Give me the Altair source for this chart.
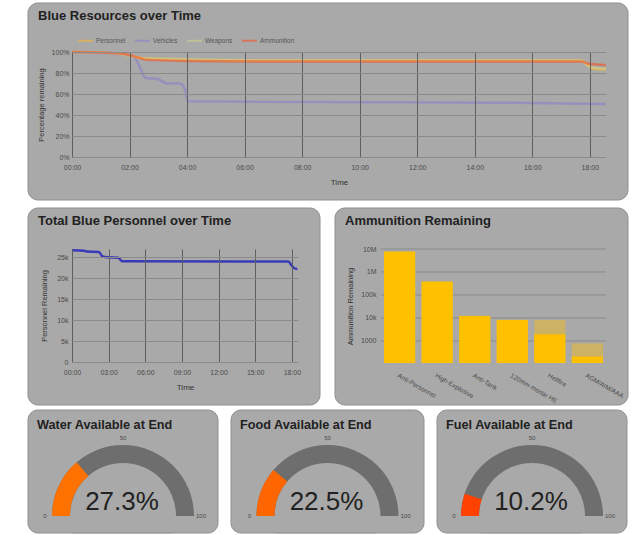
import math
import altair as alt
import pandas as pd

FONT = "Liberation Sans"
PANEL_FILL = "#a9a9a9"
PANEL_EDGE = "#8f8f8f"
TEXT_DARK = "#222222"
TEXT_AXIS = "#4a4a4a"

# ---- Blue resources, percentage remaining by hour of the exercise ----
series_names = ["Personnel", "Vehicles", "Weapons", "Ammunition"]
series_colors = ["#f2b632", "#8c80c8", "#cfd08a", "#f2562b"]

personnel_hours = [0, 1.0, 1.8, 2.2, 2.5, 3.0, 3.5, 4.2, 6.5, 17.7, 17.9, 18.1, 18.56]
personnel_pct = [100, 99.5, 97.5, 95.5, 94, 93.5, 93, 92.5, 92, 92, 88, 84, 83]

vehicles_hours = [0, 2.0, 2.2, 2.35, 2.55, 3.0, 3.3, 3.75, 3.93, 4.03, 6.5, 16.0, 18.56]
vehicles_pct = [100, 97, 94, 86, 75.5, 74, 70, 70, 64, 53, 52.5, 51.5, 50.5]

weapons_hours = [0, 1.0, 2.0, 2.4, 3.0, 4.0, 6.5, 17.7, 18.0, 18.56]
weapons_pct = [100, 99.5, 96.5, 94, 93.5, 93, 92, 92, 86, 84]

ammo_hours = [0, 1.0, 1.8, 2.2, 2.6, 4.0, 6.5, 17.7, 18.0, 18.56]
ammo_pct = [100, 99.5, 98, 95.5, 92.5, 91.5, 91, 91, 88.5, 87.5]

# ---- Total blue personnel by hour ----
total_hours = [0, 1.0, 1.2, 2.2, 2.5, 3.0, 3.8, 4.1, 17.7, 18.0, 18.2, 18.45]
total_personnel = [26700, 26600, 26400, 26300, 25200, 25000, 24900, 24100, 24000, 23000, 22400, 22200]

# ---- Ammunition stocks (log scale) ----
ammo_types = ["Anti-Personnel", "High-Explosive", "Anti-Tank", "120mm mortar HE", "Hellfire", "AGM/AIM/AAA"]
ammo_initial = [7.9e6, 400000, 12500, 8400, 8200, 790]
ammo_remaining = [7.6e6, 380000, 12200, 8200, 1950, 210]
ammo_ticks = [1000, 10000, 100000, 1000000, 10000000]
ammo_floor = 110

# ---- End-state supplies ----
gauge_titles = ["Water Available at End", "Food Available at End", "Fuel Available at End"]
gauge_values = [27.3, 22.5, 10.2]
gauge_ticks = [0, 50, 100]

panel_titles = ["Blue Resources over Time", "Total Blue Personnel over Time", "Ammunition Remaining"]

one = pd.DataFrame({"k": [0]})
LEFT = -44  # every row's first card starts this far left of its plot origin


def panel_bg(x0, x1, y0, y1):
    return alt.Chart(one).mark_rect(
        fill=PANEL_FILL, stroke=PANEL_EDGE, strokeWidth=1, cornerRadius=10
    ).encode(x=alt.value(x0), x2=alt.value(x1), y=alt.value(y0), y2=alt.value(y1))


def panel_title(text, x, y, size=13):
    return alt.Chart(one).mark_text(
        align="left", baseline="middle", font=FONT, fontSize=size,
        fontWeight="bold", color=TEXT_DARK
    ).encode(x=alt.value(x), y=alt.value(y), text=alt.value(text))


def axis(**kw):
    base = dict(domain=False, ticks=False, labelFontSize=7, titleFontSize=7.5,
                titleFontWeight="normal", labelColor=TEXT_AXIS, titleColor="#333",
                labelFont=FONT, titleFont=FONT, labelFlush=False, zindex=1)
    base.update(kw)
    return alt.Axis(**base)


hour_label = "(datum.value < 10 ? '0' : '') + datum.value + ':00'"

# ---------------- Top panel: resources over time ----------------
rows = []
for name, hrs, vals in [
    ("Personnel", personnel_hours, personnel_pct),
    ("Vehicles", vehicles_hours, vehicles_pct),
    ("Weapons", weapons_hours, weapons_pct),
    ("Ammunition", ammo_hours, ammo_pct),
]:
    for h, v in zip(hrs, vals):
        rows.append({"series": name, "hour": h, "pct": v})
res_df = pd.DataFrame(rows)

W1, H1 = 534, 105
res_lines = alt.Chart(res_df).mark_line(strokeWidth=2.5, opacity=0.62, interpolate="monotone").encode(
    x=alt.X("hour:Q", scale=alt.Scale(domain=[0, 18.56], nice=False),
            axis=axis(values=list(range(0, 19, 2)), labelExpr=hour_label, title="Time",
                      grid=True, gridColor="#5f5f5f", labelPadding=6, titlePadding=8,
                      titleFontSize=8)),
    y=alt.Y("pct:Q", scale=alt.Scale(domain=[0, 100]),
            axis=axis(values=[0, 20, 40, 60, 80, 100], labelExpr="datum.value + '%'",
                      title="Percentage remaining", grid=True, gridColor="#8a8a8a",
                      labelPadding=3, titlePadding=6)),
    color=alt.Color("series:N", sort=series_names,
                    scale=alt.Scale(domain=series_names, range=series_colors),
                    legend=alt.Legend(orient="none", legendX=5, legendY=-20, direction="horizontal",
                                      title=None, symbolType="stroke", symbolSize=225,
                                      symbolStrokeWidth=2, labelFontSize=6.5, labelColor="#555",
                                      labelFont=FONT, columnPadding=5, labelOffset=2)),
    detail="series:N",
)
top = alt.layer(
    panel_bg(LEFT, LEFT + 600, -49, 148),
    panel_title(panel_titles[0], LEFT + 10, -36),
    res_lines,
).properties(width=W1, height=H1)

# ---------------- Personnel panel ----------------
pers_df = pd.DataFrame({"hour": total_hours, "people": total_personnel})
W2, H2 = 226, 113
pers_line = alt.Chart(pers_df).mark_line(color="#3a3ab8", strokeWidth=2.5, interpolate="monotone").encode(
    x=alt.X("hour:Q", scale=alt.Scale(domain=[0, 18.5], nice=False),
            axis=axis(values=list(range(0, 19, 3)), labelExpr=hour_label, title="Time",
                      grid=True, gridColor="#5f5f5f", labelPadding=6, titlePadding=8,
                      titleFontSize=8)),
    y=alt.Y("people:Q", scale=alt.Scale(domain=[0, 27000], nice=False),
            axis=axis(values=[0, 5000, 10000, 15000, 20000, 25000],
                      labelExpr="datum.value == 0 ? '0' : (datum.value / 1000) + 'k'",
                      title="Personnel Remaining", grid=True, gridColor="#8a8a8a",
                      labelPadding=4, titlePadding=8)),
)
personnel = alt.layer(
    panel_bg(LEFT, LEFT + 292, -41, 156),
    panel_title(panel_titles[1], LEFT + 10, -28, 13),
    pers_line,
).properties(width=W2, height=H2)

# ---------------- Ammunition panel ----------------
W3, H3 = 225, 114
ammo_df = pd.DataFrame({"kind": ammo_types, "initial": ammo_initial, "amount": ammo_remaining})
grid_df = pd.DataFrame({"amount": ammo_ticks})
y_log = alt.Scale(type="log", domain=[ammo_floor, 1e7], nice=False)
y_axis = axis(values=ammo_ticks,
              labelExpr="datum.value >= 1e6 ? (datum.value / 1e6) + 'M' : "
                        "(datum.value >= 1e4 ? (datum.value / 1000) + 'k' : datum.value)",
              title="Ammunition Remaining", grid=False, labelPadding=5, titlePadding=6)
x_band = alt.X("kind:N", sort=ammo_types, scale=alt.Scale(paddingInner=0.17, paddingOuter=0.08),
               axis=axis(labelAngle=30, title=None, labelFontSize=6.5, labelPadding=9))

ammo_grid = alt.Chart(grid_df).mark_rule(color="#8a8a8a", strokeWidth=1).encode(
    y=alt.Y("amount:Q", scale=y_log, axis=y_axis)
)
ammo_start = alt.Chart(ammo_df).mark_bar(color="#ffc000", opacity=0.4).encode(
    x=x_band,
    y=alt.Y("initial:Q", scale=y_log, axis=y_axis, stack=None),
    y2=alt.datum(ammo_floor),
)
ammo_left = alt.Chart(ammo_df).mark_bar(color="#ffc000").encode(
    x=x_band,
    y=alt.Y("amount:Q", scale=y_log, axis=y_axis, stack=None),
    y2=alt.datum(ammo_floor),
)
ammunition = alt.layer(
    panel_bg(-46, 247, -41, 156),
    panel_title(panel_titles[2], -36, -28, 13),
    ammo_grid, ammo_start, ammo_left,
).properties(width=W3, height=H3)

# ---------------- Gauges ----------------
theta_scale = alt.Scale(domain=[0, 100], range=[1.5 * math.pi, 2.5 * math.pi])
CY = 106


def gauge(title, value, width):
    cx = LEFT + width / 2
    track = alt.Chart(pd.DataFrame({"start": [0], "end": [100]})).mark_arc(
        radius=71, radius2=53, color="#6e6e6e"
    ).encode(theta=alt.Theta("start:Q", scale=theta_scale, stack=None), theta2="end:Q",
             x=alt.value(cx), y=alt.value(CY))
    fill = alt.Chart(pd.DataFrame({"start": [0], "end": [value], "v": [value]})).mark_arc(
        radius=71, radius2=53
    ).encode(theta=alt.Theta("start:Q", scale=theta_scale, stack=None), theta2="end:Q",
             color=alt.Color("v:Q", scale=alt.Scale(domain=[0, 50, 100],
                                                    range=["#ff0000", "#ffa000", "#30a040"]),
                             legend=None),
             x=alt.value(cx), y=alt.value(CY))
    ticks = alt.Chart(pd.DataFrame({"start": gauge_ticks})).mark_text(
        radius=78, fontSize=6, color="#4a4a4a", font=FONT, align="center", baseline="middle"
    ).encode(theta=alt.Theta("start:Q", scale=theta_scale, stack=None), text="start:Q",
             x=alt.value(cx), y=alt.value(CY))
    big = alt.Chart(pd.DataFrame({"v": [value]})).transform_calculate(
        label="format(datum.v, '.1f') + '%'"
    ).mark_text(fontSize=26, font=FONT, color=TEXT_DARK, align="center", baseline="alphabetic").encode(
        text="label:N", x=alt.value(cx - 1), y=alt.value(100)
    )
    return alt.layer(
        panel_bg(LEFT, LEFT + width, 0, 123),
        panel_title(title, LEFT + 9, 15, 12.7),
        track, fill, ticks, big,
    ).properties(width=100, height=123)


row1 = alt.hconcat(top)
row2 = alt.hconcat(personnel, ammunition, spacing=13)
row3 = alt.hconcat(
    gauge(gauge_titles[0], gauge_values[0], 190),
    gauge(gauge_titles[1], gauge_values[1], 193),
    gauge(gauge_titles[2], gauge_values[2], 190),
    spacing=11,
)

chart = alt.vconcat(
    row1,
    alt.vconcat(row2, row3, spacing=3),
    spacing=6,
).properties(
    padding={"left": 27, "top": 2, "right": 3, "bottom": 0},
    background="white",
).configure_view(stroke=None).configure(font=FONT)

chart.save("out.html", embed_options={"renderer": "svg", "actions": False})
